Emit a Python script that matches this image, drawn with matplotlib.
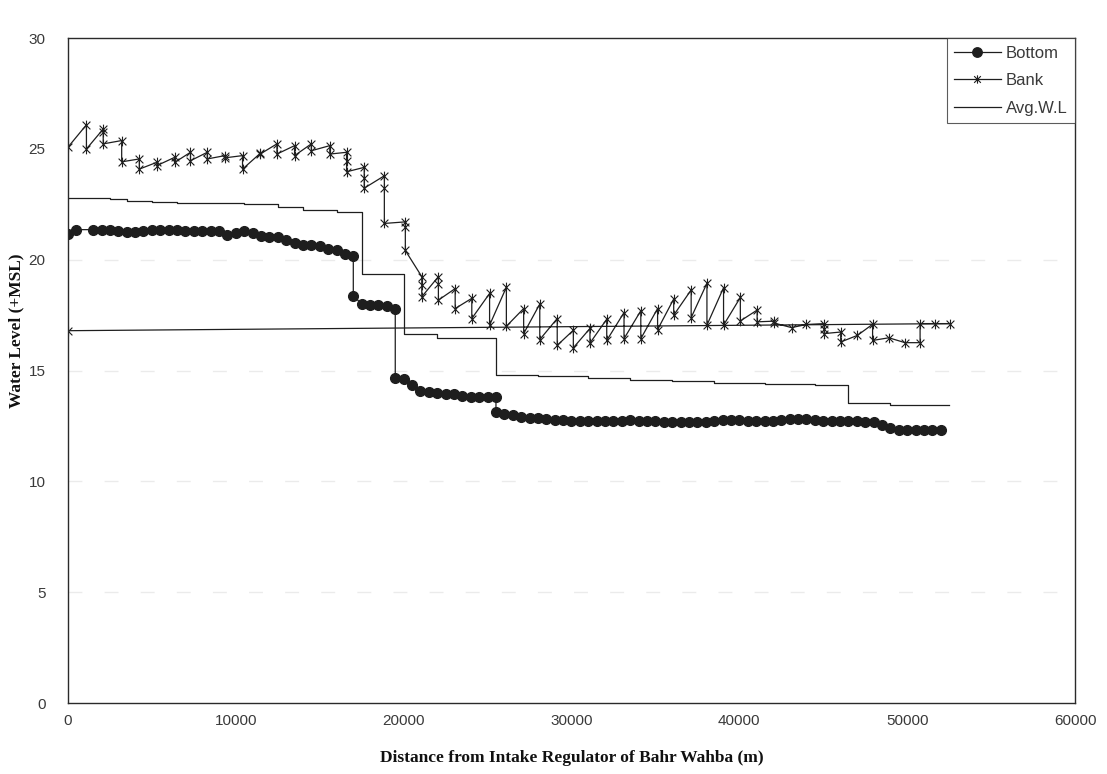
import matplotlib
matplotlib.use("Agg")
import matplotlib.pyplot as plt
from matplotlib.path import Path
from matplotlib.lines import Line2D

# Bottom level, every 500 m (duplicate x = vertical drop)
BOTTOM_X = [0, 500, 1500, 2000, 2500, 3000, 3500, 4000, 4500, 5000, 5500, 6000,
            6500, 7000, 7500, 8000, 8500, 9000, 9500, 10000, 10500, 11000, 11500,
            12000, 12500, 13000, 13500, 14000, 14500, 15000, 15500, 16000, 16500,
            17000, 17000, 17500, 18000, 18500, 19000, 19500, 19500, 20000, 20500,
            21000, 21500, 22000, 22500, 23000, 23500, 24000, 24500, 25000, 25500,
            25500, 26000, 26500, 27000, 27500, 28000, 28500, 29000, 29500, 30000,
            30500, 31000, 31500, 32000, 32500, 33000, 33500, 34000, 34500, 35000,
            35500, 36000, 36500, 37000, 37500, 38000, 38500, 39000, 39500, 40000,
            40500, 41000, 41500, 42000, 42500, 43000, 43500, 44000, 44500, 45000,
            45500, 46000, 46500, 47000, 47500, 48000, 48500, 49000, 49500, 50000,
            50500, 51000, 51500, 52000]
BOTTOM_Y = [21.18, 21.36, 21.36, 21.36, 21.36, 21.29, 21.24, 21.27, 21.29, 21.33,
            21.33, 21.33, 21.33, 21.29, 21.29, 21.29, 21.31, 21.29, 21.14, 21.21,
            21.32, 21.21, 21.09, 21.03, 21.03, 20.90, 20.76, 20.68, 20.65, 20.60,
            20.50, 20.45, 20.27, 20.15, 18.38, 18.00, 17.95, 17.95, 17.90, 17.76,
            14.67, 14.60, 14.36, 14.09, 14.03, 14.00, 13.94, 13.94, 13.86, 13.82,
            13.82, 13.80, 13.79, 13.15, 13.05, 12.98, 12.92, 12.88, 12.85, 12.80,
            12.78, 12.75, 12.74, 12.74, 12.72, 12.72, 12.73, 12.73, 12.74, 12.75,
            12.72, 12.72, 12.73, 12.68, 12.68, 12.70, 12.70, 12.68, 12.70, 12.72,
            12.75, 12.78, 12.78, 12.72, 12.72, 12.72, 12.73, 12.78, 12.80, 12.80,
            12.80, 12.75, 12.72, 12.72, 12.72, 12.72, 12.72, 12.70, 12.70, 12.55,
            12.40, 12.30, 12.30, 12.30, 12.30, 12.30, 12.30]

# Bank levels in plotting order (last point returns to the start)
BANK_X = [0, 1100, 1100, 2100, 2100, 2100, 3200, 3200, 4250, 4250, 5300, 5300,
          6350, 6350, 7300, 7300, 8300, 8300, 9350, 9350, 10400, 10400, 11450, 11450,
          12450, 12450, 13500, 13500, 14500, 14500, 15600, 15600, 16600, 16600, 16600,
          17650, 17650, 17650, 18850, 18850, 18850, 20100, 20100, 20100,
          21080, 21080, 21080, 22070, 22070, 22070, 23070, 23070, 24060, 24060,
          25120, 25120, 26120, 26120, 27150, 27150, 28110, 28110, 29150, 29150,
          30110, 30110, 31100, 31100, 32100, 32100, 33130, 33130, 34130, 34130,
          35130, 35130, 36090, 36090, 37130, 37130, 38070, 38070, 39060, 39060,
          40060, 40060, 41060, 41060, 42050, 42050, 43110, 44000, 45050, 45050, 45050,
          46040, 46040, 47040, 47940, 47940, 48910, 49870, 50770, 50770, 51660, 52560,
          0]
BANK_Y = [25.08, 26.09, 25.00, 25.90, 25.75, 25.23, 25.38, 24.42, 24.55, 24.09, 24.40, 24.25,
          24.62, 24.39, 24.85, 24.47, 24.85, 24.55, 24.70, 24.60, 24.70, 24.09, 24.80, 24.77,
          25.23, 24.77, 25.15, 24.70, 25.23, 24.92, 25.15, 24.77, 24.85, 24.47, 23.97,
          24.17, 23.70, 23.23, 23.79, 23.26, 21.64, 21.71, 21.50, 20.42,
          19.24, 18.86, 18.33, 19.24, 18.90, 18.18, 18.70, 17.80, 18.26, 17.35,
          18.48, 17.05, 18.76, 17.00, 17.80, 16.67, 18.00, 16.40, 17.35, 16.14,
          16.82, 16.03, 16.90, 16.24, 17.32, 16.36, 17.62, 16.44, 17.70, 16.44,
          17.80, 16.85, 18.23, 17.50, 18.64, 17.39, 18.94, 17.05, 18.74, 17.05,
          18.30, 17.24, 17.73, 17.20, 17.23, 17.15, 16.94, 17.08, 17.12, 16.86, 16.67,
          16.74, 16.29, 16.59, 17.09, 16.36, 16.48, 16.26, 16.26, 17.12, 17.12, 17.12,
          16.80]

# Average water level (step line)
AVG_X = [0, 2500, 3500, 5000, 6500, 10500, 12500, 14000, 16000, 17500, 20000, 22000,
         25500, 28000, 31000, 33500, 36000, 38500, 41500, 44500, 46500, 49000, 52500]
AVG_Y = [22.80, 22.73, 22.65, 22.60, 22.55, 22.50, 22.40, 22.25, 22.15, 19.35, 16.67, 16.48,
         14.82, 14.75, 14.65, 14.58, 14.52, 14.45, 14.40, 14.33, 13.52, 13.45, 13.45]

X_TICKS = [0, 10000, 20000, 30000, 40000, 50000, 60000]
Y_TICKS = [0, 5, 10, 15, 20, 25, 30]

INK = "#1e1e1e"
TICK_GREY = "#3a3a3a"

# asterisk: vertical bar plus an X
STAR = Path([(0, -1), (0, 1), (-0.8, -0.8), (0.8, 0.8), (-0.8, 0.8), (0.8, -0.8)],
            [Path.MOVETO, Path.LINETO] * 3)

fig = plt.figure(figsize=(11.07, 7.74), dpi=100)
ax = fig.add_axes([0.0614, 0.0917, 0.9097, 0.859])

# faint leftover grid dashes of the scan
for yv in Y_TICKS[1:-2]:
    ax.axhline(yv, color="#ebebeb", lw=1.0, ls=(0, (10, 16)), zorder=0)

ax.plot(BOTTOM_X, BOTTOM_Y, color=INK, lw=0.9, marker="o", markersize=7,
        markerfacecolor=INK, markeredgecolor=INK)
ax.plot(BANK_X, BANK_Y, color=INK, lw=0.9, marker=STAR, markersize=7,
        markeredgewidth=0.8, markerfacecolor="none", markeredgecolor=INK)
ax.plot(AVG_X, AVG_Y, color=INK, lw=0.9, drawstyle="steps-post")

ax.set_xlim(0, 60000)
ax.set_ylim(0, 30)
ax.set_xticks(X_TICKS)
ax.set_yticks(Y_TICKS)
ax.tick_params(length=0, labelsize=11, colors=TICK_GREY)
ax.tick_params(axis="y", pad=16)
ax.tick_params(axis="x", pad=8)
for lab in ax.get_xticklabels() + ax.get_yticklabels():
    lab.set_family("Liberation Sans")
for sp in ax.spines.values():
    sp.set_color("#2a2a2a")
    sp.set_linewidth(1.0)

ax.set_xlabel("Distance from Intake Regulator of Bahr Wahba (m)", family="Liberation Serif",
              fontweight="bold", fontsize=12.5, color="#111111", labelpad=16)
ax.set_ylabel("Water Level (+MSL)", family="Liberation Serif", fontweight="bold",
              fontsize=12.5, color="#111111")
ax.yaxis.set_label_coords(-0.043, 0.56)

handles = [
    Line2D([], [], color=INK, lw=0.9, marker="o", markersize=6.8),
    Line2D([], [], color=INK, lw=0.9, marker=STAR, markersize=6, markeredgewidth=0.8,
           markerfacecolor="none"),
    Line2D([], [], color=INK, lw=0.9),
]
leg = ax.legend(handles, ["Bottom", "Bank", "Avg.W.L"], loc="upper right",
                bbox_to_anchor=(1.0, 1.0), borderaxespad=0, fancybox=False,
                handlelength=2.8, handletextpad=0.3, labelspacing=0.75,
                prop={"family": "Liberation Sans", "size": 12}, borderpad=0.45)
leg.get_frame().set_edgecolor("#333333")
leg.get_frame().set_linewidth(0.8)
for t in leg.get_texts():
    t.set_color(TICK_GREY)

fig.savefig("out.png", dpi=100)
